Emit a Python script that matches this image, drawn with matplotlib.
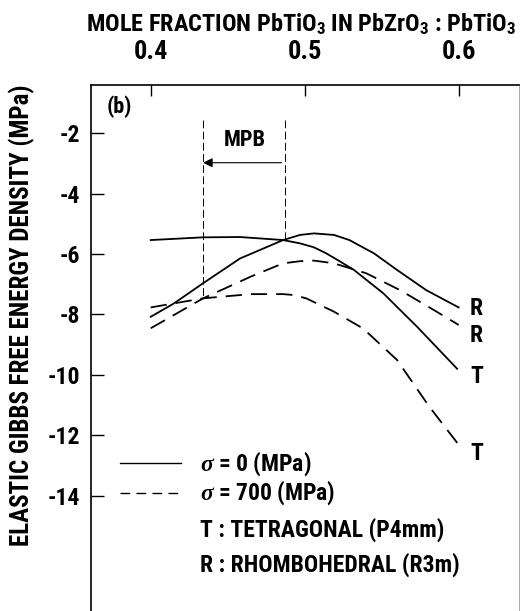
import numpy as np
import matplotlib
matplotlib.use("Agg")
import matplotlib.pyplot as plt

# 字型設定：窄版粗體，接近原圖的字體
plt.rcParams['font.family'] = ['Roboto Condensed', 'DejaVu Sans']
plt.rcParams['font.weight'] = 'bold'
plt.rcParams['mathtext.fontset'] = 'custom'
plt.rcParams['mathtext.rm'] = 'Roboto Condensed:bold'
plt.rcParams['mathtext.bf'] = 'Roboto Condensed:bold'
plt.rcParams['mathtext.it'] = 'Liberation Serif:italic'

# 讀圖得到的數據 (PbTiO3 莫耳分率, 自由能 MPa)
x_T0 = [0.400, 0.434, 0.458, 0.486, 0.497, 0.506, 0.514, 0.523, 0.532, 0.551, 0.573, 0.599]
y_T0 = [-5.54, -5.45, -5.44, -5.54, -5.65, -5.78, -5.98, -6.25, -6.53, -7.30, -8.41, -9.80]

x_R0 = [0.400, 0.415, 0.434, 0.458, 0.486, 0.497, 0.506, 0.519, 0.529, 0.545, 0.560, 0.579, 0.600]
y_R0 = [-8.08, -7.64, -6.97, -6.15, -5.54, -5.37, -5.32, -5.37, -5.54, -5.98, -6.53, -7.20, -7.77]

x_R700 = [0.400, 0.434, 0.465, 0.486, 0.497, 0.506, 0.519, 0.540, 0.562, 0.584, 0.600]
y_R700 = [-8.46, -7.47, -6.75, -6.31, -6.24, -6.22, -6.31, -6.64, -7.20, -7.86, -8.35]

x_T700 = [0.400, 0.434, 0.465, 0.486, 0.493, 0.501, 0.519, 0.538, 0.560, 0.581, 0.601]
y_T700 = [-7.77, -7.47, -7.33, -7.33, -7.36, -7.47, -7.91, -8.47, -9.51, -11.06, -12.38]

# 曲線末端的標籤
end_labels = ['R', 'R', 'T', 'T']
end_label_y = [-7.80, -8.70, -10.06, -12.60]

# MPB 邊界 (σ=700 與 σ=0 的交點)
mpb_x = [0.434, 0.487]
mpb_bottom = [-7.47, -5.54]

x_ticks = [0.4, 0.5, 0.6]
y_ticks = [-2, -4, -6, -8, -10, -12, -14]

fig = plt.figure(figsize=(5.2, 6.11), dpi=100)
ax = fig.add_axes([91 / 520, 0.0, 428 / 520, 526 / 611])

dash = (0, (9, 5))
ax.plot(x_T0, y_T0, color='black', lw=1.3)
ax.plot(x_R0, y_R0, color='black', lw=1.3)
ax.plot(x_R700, y_R700, color='black', lw=1.3, linestyle=dash)
ax.plot(x_T700, y_T700, color='black', lw=1.3, linestyle=dash)

for lab, yy in zip(end_labels, end_label_y):
    ax.text(0.6074, yy, lab, fontsize=17, ha='left', va='center')

# MPB 虛線與箭頭
for xx, yb in zip(mpb_x, mpb_bottom):
    ax.plot([xx, xx], [-1.55, yb], color='black', lw=0.7, linestyle=(0, (8, 3.5)))
ax.annotate('', xy=(mpb_x[0], -2.98), xytext=(mpb_x[1] - 0.002, -2.98),
            arrowprops=dict(arrowstyle='-|>', color='black', lw=0.8,
                            mutation_scale=14, shrinkA=0, shrinkB=0))
ax.text(0.461, -2.23, 'MPB', fontsize=16, ha='center', va='center')
ax.text(0.3716, -1.12, '(b)', fontsize=16, ha='left', va='center')

# 圖例 (手動繪製)
ax.plot([0.3799, 0.4199], [-12.93, -12.93], color='black', lw=1.0)
ax.plot([0.3799, 0.4199], [-13.90, -13.90], color='black', lw=1.0, linestyle=(0, (7, 4.5)))
ax.text(0.432, -12.93, r'$\sigma$ = 0 (MPa)', fontsize=17, ha='left', va='center')
ax.text(0.432, -13.90, r'$\sigma$ = 700 (MPa)', fontsize=17, ha='left', va='center')
ax.text(0.432, -15.14, 'T : TETRAGONAL (P4mm)', fontsize=17, ha='left', va='center')
ax.text(0.432, -16.30, 'R : RHOMBOHEDRAL (R3m)', fontsize=17, ha='left', va='center')

ax.set_xlim(0.3612, 0.6392)
ax.set_ylim(-17.82, -0.407)
ax.xaxis.tick_top()
ax.set_xticks(x_ticks)
ax.set_xticklabels([f'{v:.1f}' for v in x_ticks])
ax.set_yticks(y_ticks)
ax.set_yticklabels([str(v) for v in y_ticks])
ax.tick_params(axis='x', direction='in', length=8, width=1.0, pad=15, labelsize=19, top=True, bottom=False)
ax.tick_params(axis='y', direction='in', length=9, width=1.0, pad=8, labelsize=17)
ax.spines['bottom'].set_visible(False)
ax.spines['right'].set_linewidth(0.6)
ax.spines['right'].set_color('#999999')
ax.spines['left'].set_linewidth(1.2)
ax.spines['top'].set_linewidth(1.2)

fig.text(301 / 520, 1 - 24 / 611, r'MOLE FRACTION PbTiO$_3$ IN PbZrO$_3$ : PbTiO$_3$',
         fontsize=17.5, ha='center', va='center')
fig.text(22 / 520, 1 - 315 / 611, 'ELASTIC GIBBS FREE ENERGY DENSITY (MPa)',
         fontsize=18, ha='center', va='center', rotation=90)

fig.savefig('out.png', dpi=100)
